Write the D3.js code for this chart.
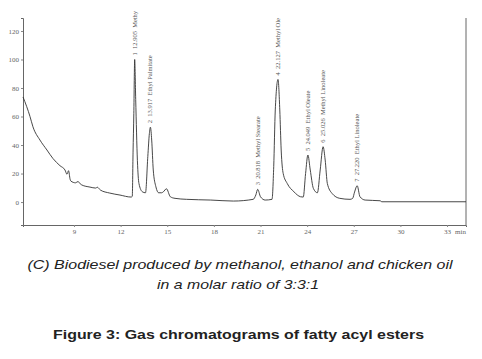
<!DOCTYPE html>
<html>
<head>
<meta charset="utf-8">
<script src="https://cdn.jsdelivr.net/npm/d3@7"></script>
<style>
  body { margin: 0; background: #fff; }
  svg { display: block; }
  .tick text { font-family: "Liberation Serif", serif; font-size: 7px; fill: #666; }
  .peak-label { font-family: "Liberation Serif", serif; font-size: 6.5px; fill: #555; white-space: pre; }
  .caption { font-family: "Liberation Sans", Arial, sans-serif; font-style: italic; font-size: 13.5px; fill: #222; }
  .fig-title { font-family: "Liberation Sans", Arial, sans-serif; font-weight: bold; font-size: 13.5px; fill: #222; }
</style>
</head>
<body>
<svg id="chart" width="482" height="359"></svg>
<script>
// retention time (min) and detector signal
const times = [5.72, 5.96, 6.17, 6.36, 6.81, 7.26, 7.65, 8.1, 8.42, 8.55, 8.65, 8.75, 8.8,
  9.1, 9.26, 9.4, 9.5, 10.03, 10.4, 10.5, 10.7, 11.3, 11.96, 12.67, 12.75, 12.8, 12.85,
  12.905, 12.97, 13.08, 13.18, 13.4, 13.6, 13.75, 13.85, 13.917, 14.0, 14.1, 14.27, 14.45,
  14.64, 14.75, 14.95, 15.2, 15.5, 16.25, 17.8, 19.25, 20.53, 20.7, 20.818, 21.0, 21.3,
  21.74, 21.85, 21.95, 22.127, 22.24, 22.33, 22.46, 22.72, 23.15, 23.58, 23.75, 23.9,
  24.049, 24.2, 24.4, 24.66, 24.84, 25.026, 25.16, 25.3, 25.6, 26.1, 26.76, 26.93, 27.05,
  27.22, 27.4, 27.73, 28.7, 28.8, 34.22];
const signal = [73.7, 66.9, 60, 52.8, 43.5, 36.5, 30.5, 25.5, 22.5, 19.5, 22, 16, 14.7,
  13.5, 14.4, 12.8, 12, 10.5, 9.8, 10.4, 8.4, 6.3, 4.9, 3.5, 4, 35, 62,
  100, 72, 29, 13, 7.2, 6.5, 32, 48, 52.5, 43.5, 22.5, 10.7, 6.5,
  6.5, 7.2, 9.3, 3.7, 2.6, 1.9, 1.4, 0.7, 1.9, 5, 8.9, 3.7, 1.4,
  1.9, 24.8, 64.6, 86, 64.6, 36.5, 20, 13, 7.2, 3.7, 3.5, 20,
  33, 22.5, 9.6, 6.5, 22.5, 38.8, 29.5, 13, 6.1, 2.6, 1.9, 2.6, 7,
  11.4, 3.7, 1.4, 0.9, 0.2, 0.2];

const peakTimes = [12.905, 13.917, 20.818, 22.127, 24.049, 25.026, 27.220];
const peakHeights = [100, 52.5, 8.9, 86, 33, 38.8, 11.4];
const peakNames = ["1  12.905  Methy", "2  13.917  Ethyl Palmitate", "3  20.818  Methyl Stearate",
  "4  22.127  Methyl Ole", "5  24.049  Ethyl Oleate", "6  25.026  Methyl Linoleate",
  "7  27.220  Ethyl Linoleate"];

const xTicks = [9, 12, 15, 18, 21, 24, 27, 30, 33];
const yTicks = [0, 20, 40, 60, 80, 100, 120];

const svg = d3.select("#chart"),
      plotLeft = 23, plotRight = 466, plotTop = 18, plotBottom = 225

const x = d3.scaleLinear()
            .domain([5.72, 34.22])
            .range([plotLeft, plotRight])

const y = d3.scaleLinear()
            .domain([-16.1, 129.1])
            .range([plotBottom, plotTop])

// axes
svg.append("g")
   .attr("transform", "translate(0," + plotBottom + ")")
   .call(d3.axisBottom(x).tickValues(xTicks).tickSize(2).tickPadding(2).tickFormat(d3.format("d")))
   .call(g => g.select(".domain").attr("stroke", "#666"))
   .call(g => g.selectAll(".tick line").attr("stroke", "#888"))

svg.append("g")
   .attr("transform", "translate(" + plotLeft + ",0)")
   .call(d3.axisLeft(y).tickValues(yTicks).tickSize(2).tickPadding(2).tickFormat(d3.format("d")))
   .call(g => g.select(".domain").attr("stroke", "#666"))
   .call(g => g.selectAll(".tick line").attr("stroke", "#888"))

svg.append("line")
   .attr("x1", plotRight).attr("x2", plotRight)
   .attr("y1", plotTop).attr("y2", plotBottom)
   .attr("stroke", "#666")

svg.append("text")
   .attr("x", 455).attr("y", plotBottom + 9)
   .style("font-family", "Liberation Serif, serif")
   .style("font-size", "7px")
   .style("fill", "#666")
   .text("min")

// the trace
const pts = times.map((t, i) => [t, signal[i]])
const line = d3.line()
               .x(d => x(d[0]))
               .y(d => y(d[1]))
               .curve(d3.curveMonotoneX)

svg.append("path")
   .datum(pts)
   .attr("d", line)
   .attr("fill", "none")
   .attr("stroke", "#333")
   .attr("stroke-width", 0.9)

// peak labels, rotated upwards from each apex
svg.selectAll(".peak-label")
   .data(peakTimes)
   .enter()
   .append("text")
   .attr("class", "peak-label")
   .attr("transform", (d, i) => "translate(" + (x(d) + 2) + "," + (y(peakHeights[i]) - 4) + ") rotate(-90)")
   .text((d, i) => peakNames[i])

// captions (the source text is slightly stretched, so fit to measured widths)
svg.append("text")
   .attr("class", "caption")
   .attr("x", 240).attr("y", 269)
   .attr("text-anchor", "middle")
   .attr("textLength", 425)
   .attr("lengthAdjust", "spacingAndGlyphs")
   .text("(C) Biodiesel produced by methanol, ethanol and chicken oil")

svg.append("text")
   .attr("class", "caption")
   .attr("x", 238).attr("y", 289)
   .attr("text-anchor", "middle")
   .attr("textLength", 162)
   .attr("lengthAdjust", "spacingAndGlyphs")
   .text("in a molar ratio of 3:3:1")

svg.append("text")
   .attr("class", "fig-title")
   .attr("x", 238.5).attr("y", 339)
   .attr("text-anchor", "middle")
   .attr("textLength", 371)
   .attr("lengthAdjust", "spacingAndGlyphs")
   .text("Figure 3: Gas chromatograms of fatty acyl esters")
</script>
</body>
</html>
